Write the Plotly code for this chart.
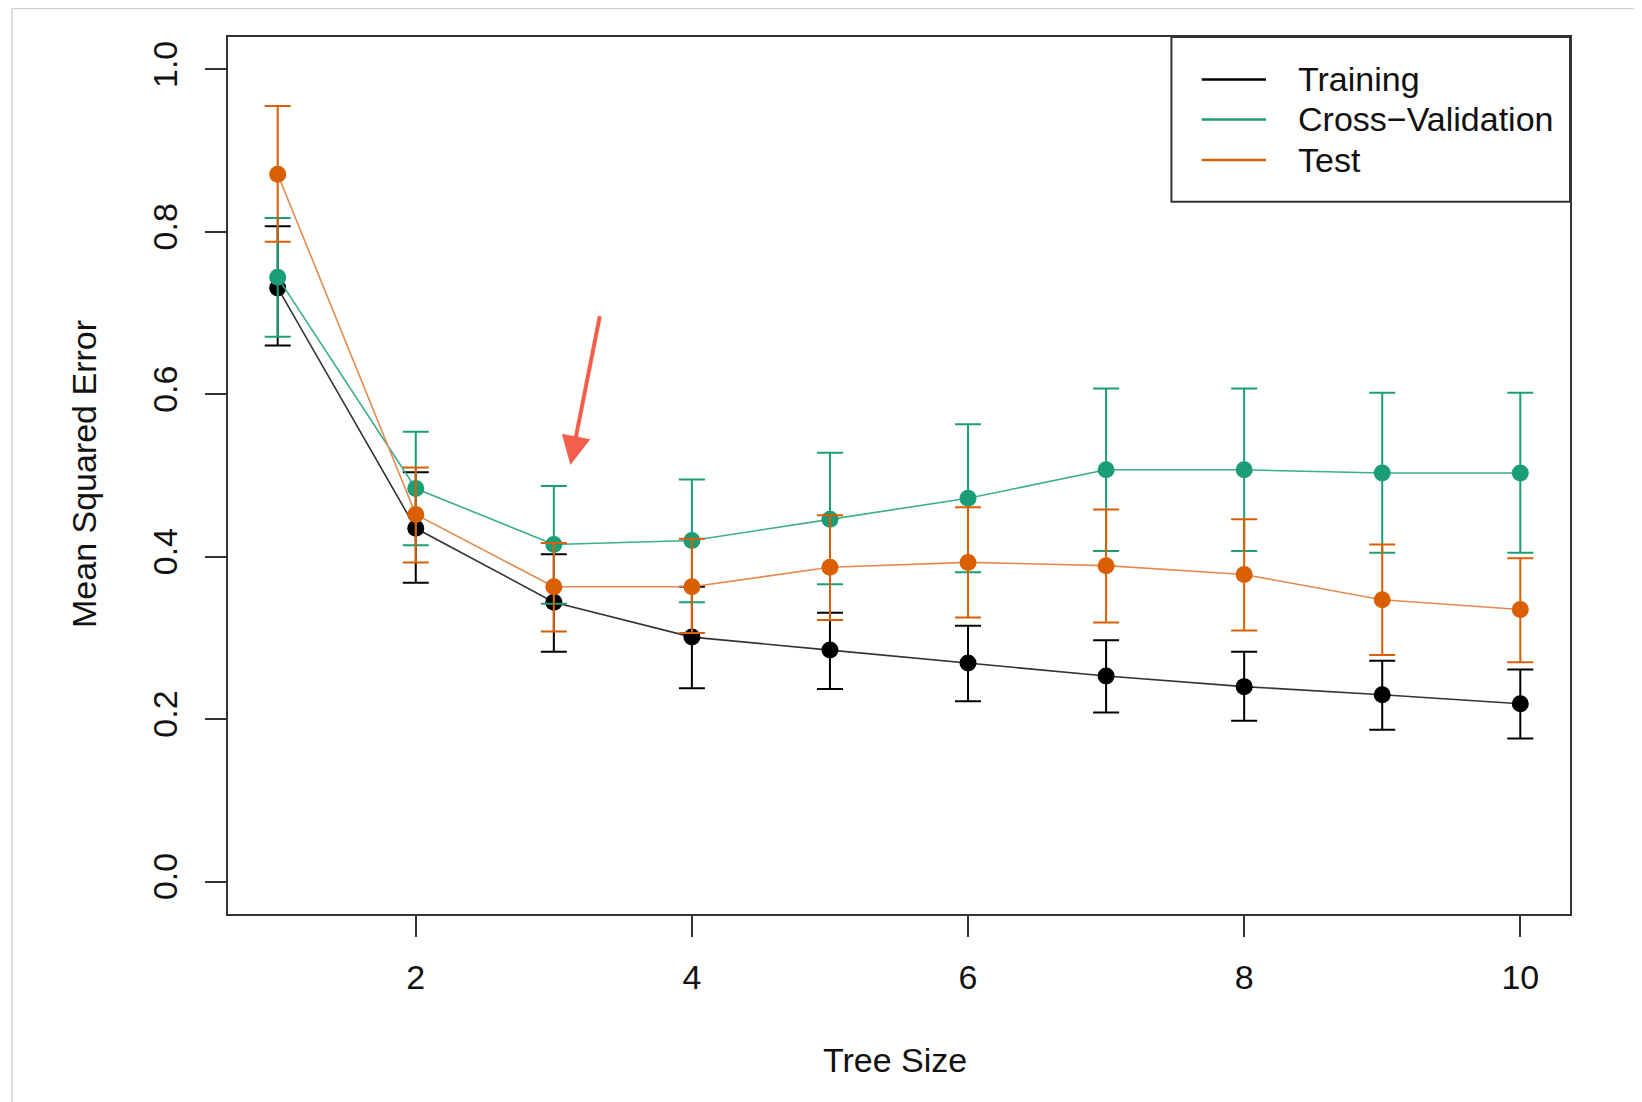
import plotly.graph_objects as go

# ---------------- data ----------------
tree_size = [1, 2, 3, 4, 5, 6, 7, 8, 9, 10]

train_mse = [0.731, 0.435, 0.344, 0.301, 0.285, 0.269, 0.253, 0.240, 0.230, 0.219]
train_hi = [0.807, 0.504, 0.403, 0.363, 0.331, 0.315, 0.297, 0.283, 0.272, 0.261]
train_lo = [0.660, 0.368, 0.283, 0.238, 0.237, 0.222, 0.208, 0.198, 0.187, 0.176]

cv_mse = [0.744, 0.484, 0.415, 0.420, 0.446, 0.472, 0.507, 0.507, 0.503, 0.503]
cv_hi = [0.817, 0.554, 0.487, 0.495, 0.528, 0.563, 0.607, 0.607, 0.602, 0.602]
cv_lo = [0.671, 0.414, 0.342, 0.344, 0.366, 0.381, 0.407, 0.407, 0.405, 0.405]

test_mse = [0.871, 0.452, 0.363, 0.363, 0.387, 0.393, 0.389, 0.378, 0.347, 0.335]
test_hi = [0.955, 0.510, 0.417, 0.422, 0.451, 0.461, 0.458, 0.446, 0.415, 0.398]
test_lo = [0.788, 0.393, 0.308, 0.306, 0.322, 0.325, 0.319, 0.309, 0.279, 0.270]

series_names = ["Training", "Cross\u2212Validation", "Test"]
series_colors = ["#000000", "#1B9E77", "#D95F02"]
line_colors = ["#333333", "#3AAE8E", "#E58A4E"]

y_tickvals = [0.0, 0.2, 0.4, 0.6, 0.8, 1.0]
y_ticktext = ["0.0", "0.2", "0.4", "0.6", "0.8", "1.0"]
x_tickvals = [2, 4, 6, 8, 10]
x_ticktext = ["2", "4", "6", "8", "10"]

# arrow annotation (data coordinates): tip and tail
arrow_tip = (3.12, 0.513)
arrow_tail = (3.335, 0.698)

FONT = "Liberation Sans, Arial, Helvetica, sans-serif"
AXIS_COLOR = "#333333"

# the page body has an 8px margin, so the figure is slightly smaller
W, H = 1634, 1094
ML, MT, PW, PH = 220, 29, 1342, 877

fig = go.Figure()

data_sets = [
    (train_mse, train_hi, train_lo),
    (cv_mse, cv_hi, cv_lo),
    (test_mse, test_hi, test_lo),
]

for (mse, hi, lo), name, color, lcol in zip(data_sets, series_names, series_colors, line_colors):
    plus = [h - m for h, m in zip(hi, mse)]
    minus = [m - l for m, l in zip(mse, lo)]
    fig.add_trace(go.Scatter(
        x=tree_size, y=mse, name=name, mode="lines+markers",
        line=dict(color=lcol, width=1.6),
        marker=dict(color=color, size=17, line=dict(width=0)),
        error_y=dict(type="data", symmetric=False, array=plus, arrayminus=minus,
                     color=color, thickness=2, width=13),
        showlegend=False,
    ))

# ---------------- custom legend (R style) ----------------
leg_x0, leg_x1 = 0.703, 1.0
leg_y0, leg_y1 = 0.8122, 1.0
fig.add_shape(type="rect", xref="paper", yref="paper",
              x0=leg_x0, x1=leg_x1, y0=leg_y0, y1=leg_y1,
              line=dict(color=AXIS_COLOR, width=2), fillcolor="white", layer="above")
row_y = [0.9516, 0.9060, 0.8597]
for name, color, ry in zip(series_names, series_colors, row_y):
    fig.add_shape(type="line", xref="paper", yref="paper",
                  x0=0.7256, x1=0.7735, y0=ry, y1=ry,
                  line=dict(color=color, width=2.5), layer="above")
    fig.add_annotation(xref="paper", yref="paper", x=0.796, y=ry,
                       text=name, showarrow=False, xanchor="left", yanchor="middle",
                       font=dict(family=FONT, size=34, color="#111111"))

# ---------------- red arrow ----------------
fig.add_annotation(x=arrow_tip[0], y=arrow_tip[1], ax=arrow_tail[0], ay=arrow_tail[1],
                   xref="x", yref="y", axref="x", ayref="y",
                   text="", showarrow=True, arrowhead=2, arrowsize=1.45,
                   arrowwidth=4, arrowcolor="#F45F4B")

# ---------------- axis titles ----------------
fig.add_annotation(xref="paper", yref="paper", x=-0.1073, y=0.5017,
                   text="Mean Squared Error", showarrow=False, textangle=-90,
                   xanchor="center", yanchor="middle",
                   font=dict(family=FONT, size=34, color="#111111"))
fig.add_annotation(xref="paper", yref="paper", x=0.497, y=-0.1661,
                   text="Tree Size", showarrow=False,
                   xanchor="center", yanchor="middle",
                   font=dict(family=FONT, size=34, color="#111111"))

# outer light-grey frame of the screenshot
fx = (4 - ML) / PW
fy = (MT + PH - 0.5) / PH
fig.add_shape(type="line", xref="paper", yref="paper",
              x0=fx, x1=(W - ML) / PW, y0=fy, y1=fy,
              line=dict(color="#cfcfcf", width=1.5))
fig.add_shape(type="line", xref="paper", yref="paper",
              x0=fx, x1=fx, y0=fy, y1=(MT + PH - H) / PH,
              line=dict(color="#cfcfcf", width=1.5))

fig.update_layout(
    width=W, height=H,
    margin=dict(l=ML, r=W - ML - PW, t=MT, b=H - MT - PH, pad=0),
    paper_bgcolor="white", plot_bgcolor="white",
    font=dict(family=FONT, size=34, color="#111111"),
    xaxis=dict(range=[0.64, 10.36], tickvals=x_tickvals, ticktext=x_ticktext,
               showgrid=False, zeroline=False, showline=True, mirror=True,
               linecolor=AXIS_COLOR, linewidth=2, ticks="outside", ticklen=21,
               tickwidth=2, tickcolor=AXIS_COLOR, ticklabelstandoff=11,
               tickfont=dict(family=FONT, size=34, color="#111111")),
    yaxis=dict(range=[-0.04, 1.04], tickvals=y_tickvals, ticktext=y_ticktext,
               showgrid=False, zeroline=False, showline=True, mirror=True,
               linecolor=AXIS_COLOR, linewidth=2, ticks="outside", ticklen=21,
               tickwidth=2, tickcolor=AXIS_COLOR, tickangle=-90, ticklabelstandoff=14,
               tickfont=dict(family=FONT, size=34, color="#111111")),
)

fig.write_html("out.html")
